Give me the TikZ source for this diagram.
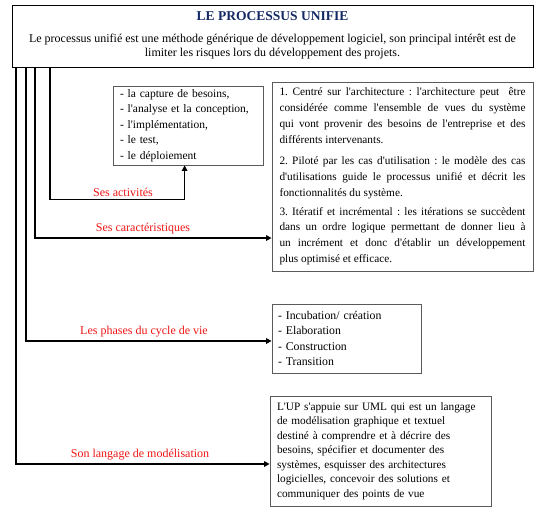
\documentclass[tikz,border=0pt]{standalone}
\usepackage{fontspec}
\setmainfont{Liberation Serif}[Ligatures=TeXOff]
\usetikzlibrary{arrows.meta}
\definecolor{titleblue}{RGB}{20,40,100}
\definecolor{lblred}{RGB}{240,20,20}
\definecolor{boxgray}{RGB}{90,90,90}
\tikzset{
  topbox/.style={draw=black, line width=0.7pt, minimum width=521pt, minimum height=62pt, inner sep=0pt},
  infobox/.style={draw=boxgray, line width=0.8pt, inner sep=0pt, font=\fontsize{11.5}{15.5}\selectfont},
  conn/.style={line width=1.7pt, black},
  arr/.style={conn, -{Triangle[length=5.5pt,width=5.5pt]}},
  lbl/.style={text=lblred, font=\fontsize{12}{14}\selectfont, inner sep=0pt},
}
\begin{document}
\frenchspacing
\begin{tikzpicture}[x=1pt,y=-1pt]
\useasboundingbox (0,0) rectangle (541,509);
% top box
\node[topbox] (top) at (272.5,36) {};
\node[text=titleblue, font=\bfseries\fontsize{13.5}{15}\selectfont, inner sep=0pt] (title) at (272.5,16) {LE PROCESSUS UNIFIE};
\node[align=center, font=\fontsize{12}{14}\selectfont, inner sep=0pt] (intro) at (272.5,47) {Le processus unifié est une méthode générique de développement logiciel, son principal intérêt est de\\limiter les risques lors du développement des projets.};
% activities box
\node[infobox, minimum width=150pt, minimum height=79pt, text width=136pt, align=left] (act) at (188,125.5) {- la capture de besoins,\\- l'analyse et la conception,\\- l'implémentation,\\- le test,\\- le déploiement};
% caracteristiques box
\node[infobox, minimum width=261pt, minimum height=189pt, text width=246pt, align=justify, font=\fontsize{11.3}{15.9}\selectfont] (car) at (402.5,176.5) {%
1. Centré sur l'architecture : l'architecture peut\ \ être\linebreak considérée comme l'ensemble de vues du système\linebreak qui vont provenir des besoins de l'entreprise et des\linebreak différents intervenants.\par\vspace{5pt}
2. Piloté par les cas d'utilisation : le modèle des cas\linebreak d'utilisations guide le processus unifié et décrit les\linebreak fonctionnalités du système.\par\vspace{3pt}
3. Itératif et incrémental : les itérations se succèdent\linebreak dans un ordre logique permettant de donner lieu à\linebreak un incrément et donc d'établir un développement\linebreak plus optimisé et efficace.};
% phases box
\node[infobox, minimum width=149pt, minimum height=69pt, text width=137pt, align=left, font=\fontsize{11.8}{15.4}\selectfont] (pha) at (346.5,338.5) {- Incubation/ création\\- Elaboration\\- Construction\\- Transition};
% langage box
\node[infobox, minimum width=221pt, minimum height=110pt, text width=207pt, align=left, font=\fontsize{11.3}{14.5}\selectfont] (lang) at (380.5,451) {L'UP s'appuie sur UML qui est un langage\\de modélisation graphique et textuel\\destiné à comprendre et à décrire des\\besoins, spécifier et documenter des\\systèmes, esquisser des architectures\\logicielles, concevoir des solutions et\\communiquer des points de vue};
% connectors
\draw[arr] ([xshift=4pt]top.south west) |- ([yshift=-13pt]lang.west);
\draw[arr] ([xshift=14pt]top.south west) |- ([yshift=-2.5pt]pha.west);
\draw[arr] ([xshift=23pt]top.south west) |- ([yshift=-61.5pt]car.west);
\draw[arr] ([xshift=38pt]top.south west) -- ++(0,132) -| ([xshift=72pt]act.south west);
% labels
\node[lbl] (l1) at (123,192) {Ses activités};
\node[lbl] (l2) at (143,229) {Ses caractéristiques};
\node[lbl] (l3) at (144,332) {Les phases du cycle de vie};
\node[lbl] (l4) at (140,455) {Son langage de modélisation};
\end{tikzpicture}
\end{document}
